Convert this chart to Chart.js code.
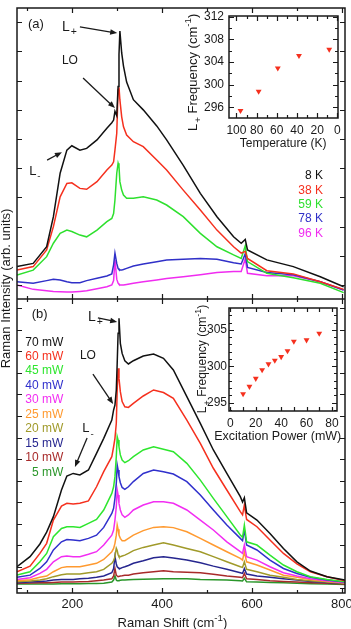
<!DOCTYPE html>
<html>
<head>
<meta charset="utf-8">
<script src="https://cdn.jsdelivr.net/npm/chart.js@4.4.1/dist/chart.umd.min.js"></script>
<style>
  html, body { margin: 0; padding: 0; background: #fff; }
  body { width: 351px; height: 629px; position: relative; overflow: hidden; font-family: "Liberation Sans", Arial, sans-serif; }
  canvas { position: absolute; }
  #yTitle { position: absolute; left: -80px; top: 281px; width: 171px; height: 15px; line-height: 15px;
            text-align: center; font-size: 13px; color: #1a1a1a; transform: rotate(-90deg); white-space: nowrap; }
</style>
</head>
<body>
<canvas id="panelA" width="351" height="299" style="left:0;top:0"></canvas>
<canvas id="panelB" width="351" height="330" style="left:0;top:299px"></canvas>
<canvas id="insetA" width="167" height="147" style="left:178px;top:6px"></canvas>
<canvas id="insetB" width="167" height="147" style="left:178px;top:298px"></canvas>
<div id="yTitle">Raman Intensity (arb. units)</div>
<script>
// ---- panel (a): temperature series ----
const shiftA = [77, 113, 143, 158, 173, 188, 199, 217, 232, 255, 277, 288, 292, 295, 299, 302, 304, 306, 310, 314,
                321, 336, 358, 388, 410, 447, 485, 522, 559, 576, 585, 590, 633, 692, 752, 804];
const temps = ['8 K', '38 K', '59 K', '78 K', '96 K'];
const int8K  = [0.63, 0.74, 1.31, 2.34, 3.83, 4.62, 4.77, 4.62, 4.68, 4.97, 5.37, 5.56, 5.65, 5.95, 5.8, 6.8, 7.9, 8.7, 7.95, 7.5,
                6.95, 6.35, 6.0, 5.45, 4.97, 4.1, 3.14, 2.34, 1.65, 1.43, 1.56, 1.2, 0.86, 0.63, 0.28, -0.06];
const int38K = [0.51, 0.63, 1.2, 2.0, 3.02, 3.48, 3.5, 3.31, 3.28, 3.54, 3.94, 4.11, 4.22, 4.62, 5.2, 6.68, 6.77, 6.34, 5.76, 5.42,
                5.14, 4.91, 4.74, 4.28, 3.94, 3.25, 2.57, 1.88, 1.31, 1.09, 1.15, 0.91, 0.49, 0.38, 0.11, -0.15];
const int59K = [0.34, 0.51, 0.97, 1.43, 1.77, 1.88, 1.83, 1.71, 1.65, 1.88, 2.17, 2.28, 2.45, 2.91, 3.83, 4.17, 4.06, 3.54, 3.25, 3.08,
                2.97, 2.97, 3.02, 2.91, 2.74, 2.34, 1.77, 1.31, 1.03, 0.91, 1.34, 0.8, 0.4, 0.25, 0.06, -0.26];
const int78K = [0.11, 0.06, 0.15, 0.2, 0.17, 0.11, 0.08, 0.08, 0.15, 0.23, 0.31, 0.38, 0.69, 1.09, 0.74, 0.57, 0.53, 0.51, 0.51, 0.53,
                0.57, 0.65, 0.72, 0.8, 0.86, 0.88, 0.91, 0.88, 0.76, 0.72, 1.07, 0.6, 0.43, 0.35, 0.11, -0.17];
const int96K = [0.0, -0.15, -0.2, -0.22, -0.23, -0.24, -0.24, -0.22, -0.2, -0.13, -0.06, 0.0, 0.15, 0.86, 0.2, 0.06, 0.02, 0.0, 0.0, 0.0,
                0.02, 0.06, 0.11, 0.17, 0.22, 0.28, 0.35, 0.43, 0.46, 0.46, 0.9, 0.4, 0.32, 0.32, 0.11, -0.17];

// ---- panel (b): excitation power series ----
const shiftB = [77, 106, 128, 143, 158, 176, 188, 202, 217, 236, 254, 270, 288, 292, 295, 298, 300, 302, 304, 307,
                311, 317, 325, 336, 358, 381, 403, 425, 455, 485, 514, 544, 574, 579, 583, 588, 611, 640, 670, 700,
                730, 767, 807];
const powers = ['70 mW', '60 mW', '45 mW', '40 mW', '30 mW', '25 mW', '20 mW', '15 mW', '10 mW', '5 mW'];
const int70 = [0.99, 1.46, 2.05, 2.6, 3.32, 4.56, 5.21, 5.33, 5.26, 5.49, 6.26, 6.96, 7.81, 8.28, 8.51, 9.21, 10.45, 11.85, 12.54, 11.38,
               10.91, 10.57, 10.42, 10.57, 10.79, 10.88, 10.68, 10.14, 8.9, 7.66, 6.42, 5.33, 4.25, 4.0, 4.2, 3.5, 3.16, 2.54, 1.84, 1.22,
               0.79, 0.53, 0.37];
const int60 = [0.76, 1.02, 1.61, 2.08, 3.16, 3.81, 3.94, 3.91, 3.94, 4.05, 4.71, 5.41, 6.11, 6.57, 6.96, 7.66, 9.21, 10.22, 9.75, 9.13,
               8.67, 8.43, 8.4, 8.59, 8.93, 9.21, 9.09, 8.82, 7.81, 6.73, 5.57, 4.56, 3.55, 3.4, 3.86, 3.19, 2.85, 2.23, 1.61, 1.12,
               0.76, 0.53, 0.34];
const int45 = [0.6, 0.76, 1.22, 1.61, 2.39, 2.77, 2.85, 2.85, 2.82, 3.01, 3.19, 3.63, 4.4, 4.71, 5.18, 6.11, 7.04, 6.88, 6.57, 6.19,
               5.95, 5.83, 5.92, 6.11, 6.42, 6.57, 6.45, 6.34, 5.8, 5.02, 4.17, 3.32, 2.47, 2.36, 2.93, 2.15, 2.0, 1.53, 1.07, 0.76,
               0.53, 0.4, 0.29];
const int40 = [0.5, 0.6, 0.91, 1.22, 1.77, 2.15, 2.26, 2.23, 2.2, 2.31, 2.46, 2.82, 3.47, 3.71, 4.17, 4.87, 5.72, 5.49, 5.18, 4.9,
               4.68, 4.59, 4.71, 4.95, 5.33, 5.49, 5.41, 5.3, 4.95, 4.33, 3.63, 2.93, 2.31, 2.2, 2.7, 2.0, 1.77, 1.3, 0.91, 0.68,
               0.5, 0.37, 0.28];
const int30 = [0.4, 0.48, 0.68, 0.87, 1.22, 1.46, 1.49, 1.46, 1.46, 1.57, 1.69, 2.0, 2.46, 2.7, 3.16, 3.78, 4.56, 4.33, 3.94, 3.63,
               3.4, 3.29, 3.4, 3.63, 3.86, 4.01, 4.01, 3.94, 3.63, 3.16, 2.7, 2.15, 1.69, 1.61, 2.0, 1.46, 1.3, 0.99, 0.71, 0.56,
               0.43, 0.34, 0.25];
const int25 = [0.34, 0.39, 0.5, 0.56, 0.76, 0.95, 0.99, 0.99, 0.99, 1.07, 1.15, 1.33, 1.69, 1.84, 2.08, 2.46, 2.93, 2.73, 2.46, 2.31,
               2.2, 2.2, 2.31, 2.46, 2.67, 2.82, 2.85, 2.81, 2.62, 2.31, 2.0, 1.69, 1.38, 1.3, 1.69, 1.22, 1.07, 0.84, 0.6, 0.5,
               0.4, 0.31, 0.25];
const int20 = [0.29, 0.33, 0.37, 0.43, 0.53, 0.62, 0.65, 0.65, 0.65, 0.71, 0.76, 0.87, 1.15, 1.27, 1.46, 1.85, 1.75, 1.55, 1.46, 1.46,
               1.49, 1.53, 1.61, 1.74, 1.89, 2.0, 2.11, 2.0, 1.84, 1.69, 1.46, 1.22, 0.99, 0.96, 1.22, 0.87, 0.76, 0.6, 0.5, 0.4,
               0.34, 0.28, 0.22];
const int15 = [0.25, 0.28, 0.31, 0.33, 0.37, 0.4, 0.4, 0.4, 0.43, 0.46, 0.5, 0.56, 0.71, 0.91, 1.46, 1.12, 0.99, 0.95, 0.91, 0.91,
               0.95, 0.99, 1.05, 1.15, 1.27, 1.41, 1.46, 1.4, 1.3, 1.18, 1.02, 0.87, 0.71, 0.68, 0.91, 0.65, 0.56, 0.5, 0.43, 0.37,
               0.31, 0.26, 0.22];
const int10 = [0.22, 0.23, 0.25, 0.25, 0.26, 0.28, 0.28, 0.28, 0.29, 0.31, 0.34, 0.37, 0.43, 0.56, 0.91, 0.6, 0.56, 0.53, 0.53, 0.56,
               0.57, 0.59, 0.6, 0.65, 0.71, 0.76, 0.81, 0.76, 0.74, 0.71, 0.64, 0.56, 0.5, 0.48, 0.68, 0.43, 0.4, 0.34, 0.31, 0.28,
               0.25, 0.22, 0.19];
const int5  = [0.19, 0.19, 0.19, 0.19, 0.19, 0.2, 0.2, 0.2, 0.2, 0.21, 0.21, 0.22, 0.28, 0.37, 0.56, 0.37, 0.34, 0.34, 0.35, 0.36,
               0.37, 0.38, 0.39, 0.4, 0.41, 0.42, 0.43, 0.43, 0.43, 0.4, 0.39, 0.37, 0.34, 0.33, 0.45, 0.29, 0.28, 0.26, 0.25, 0.22,
               0.2, 0.19, 0.16];

// ---- insets: L+ frequency ----
const insetTemp = [96, 78, 59, 38, 8];
const insetTempFreq = [295.4, 298.8, 302.9, 305.1, 306.2];
const insetPower = [10, 15, 20, 25, 30, 35, 40, 45, 50, 60, 70];
const insetPowerFreq = [296.2, 297.2, 298.3, 299.5, 300.3, 300.8, 301.3, 302.1, 303.4, 303.6, 304.5];

// ---- ticks ----
const shiftTicks = [100, 200, 300, 400, 500, 600, 700, 800];
const shiftLabels = [200, 400, 600, 800];
const tempTicks = [0, 20, 40, 60, 80, 100];
const freqTicksA = [296, 300, 304, 308, 312];
const powerTicks = [0, 20, 40, 60, 80];
const freqTicksB = [295, 300, 305];

const FONT = '"Liberation Sans", Arial, sans-serif';
Chart.defaults.font.family = FONT;
Chart.defaults.color = '#1a1a1a';

// frame round the plot area plus inward tick marks on all four sides
const frameTicks = {
  id: 'frameTicks',
  afterDatasetsDraw(chart, args, o) {
    const {ctx, chartArea: a} = chart;
    const sx = chart.scales.x, sy = chart.scales.y;
    ctx.save();
    ctx.strokeStyle = '#1a1a1a';
    ctx.lineWidth = 1.2;
    ctx.beginPath();
    (o.x || []).forEach(t => {
      const p = Math.round(sx.getPixelForValue(t.v)) + 0.5;
      ctx.moveTo(p, a.bottom); ctx.lineTo(p, a.bottom - t.len);
      ctx.moveTo(p, a.top); ctx.lineTo(p, a.top + t.len);
    });
    (o.y || []).forEach(t => {
      const p = Math.round(sy.getPixelForValue(t.v)) + 0.5;
      ctx.moveTo(a.left, p); ctx.lineTo(a.left + t.len, p);
      ctx.moveTo(a.right, p); ctx.lineTo(a.right - t.len, p);
    });
    ctx.stroke();
    ctx.lineWidth = 1.5;
    ctx.strokeRect(a.left, a.top, a.right - a.left, a.bottom - a.top);
    ctx.restore();
  }
};

// text labels (optionally rotated, with sub/superscripts) and arrows, placed in data coordinates
const notes = {
  id: 'notes',
  afterDraw(chart, args, o) {
    const {ctx} = chart;
    const sx = chart.scales.x, sy = chart.scales.y;
    ctx.save();
    ctx.strokeStyle = ctx.fillStyle = '#1a1a1a';
    (o.arrows || []).forEach(ar => {
      const x0 = sx.getPixelForValue(ar[0]), y0 = sy.getPixelForValue(ar[1]);
      const x1 = sx.getPixelForValue(ar[2]), y1 = sy.getPixelForValue(ar[3]);
      const ang = Math.atan2(y1 - y0, x1 - x0), c = Math.cos(ang), s = Math.sin(ang);
      ctx.fillStyle = '#1a1a1a';
      ctx.lineWidth = 1.3;
      ctx.beginPath(); ctx.moveTo(x0, y0); ctx.lineTo(x1 - 5 * c, y1 - 5 * s); ctx.stroke();
      ctx.beginPath();
      ctx.moveTo(x1, y1);
      ctx.lineTo(x1 - 7 * c + 2.8 * s, y1 - 7 * s - 2.8 * c);
      ctx.lineTo(x1 - 7 * c - 2.8 * s, y1 - 7 * s + 2.8 * c);
      ctx.closePath(); ctx.fill();
    });
    (o.labels || []).forEach(l => {
      const size = l.size || 12;
      const parts = l.parts || [{t: l.text}];
      const fontOf = p => (p.sub || p.sup ? size * 0.75 : size) + 'px ' + FONT;
      let w = 0;
      parts.forEach(p => { ctx.font = fontOf(p); p.w = ctx.measureText(p.t).width; w += p.w + (p.sub ? 1 : 0); });
      ctx.save();
      ctx.translate(sx.getPixelForValue(l.x), sy.getPixelForValue(l.y));
      if (l.rotate) ctx.rotate(l.rotate * Math.PI / 180);
      let px = 0;
      if (l.align === 'right') px -= w;
      if (l.align === 'center') px -= w / 2;
      ctx.fillStyle = l.color || '#1a1a1a';
      ctx.textAlign = 'left';
      ctx.textBaseline = 'middle';
      parts.forEach(p => {
        ctx.font = fontOf(p);
        const dy = p.sub ? size * 0.38 : (p.sup ? -size * 0.4 : 0);
        if (p.sub) px += 1;
        ctx.fillText(p.t, px, dy);
        px += p.w;
      });
      ctx.restore();
    });
    ctx.restore();
  }
};

function lineSet(label, xs, ys, color) {
  return {
    label: label,
    data: xs.map((x, i) => ({x: x, y: ys[i]})),
    showLine: true,
    borderColor: color,
    borderWidth: 1.5,
    pointRadius: 0,
    fill: false,
    tension: 0
  };
}

const tempColors = ['#111111', '#f5301e', '#2ee02e', '#3030c8', '#f02cf0'];
const powerColors = ['#111111', '#f5301e', '#2ee62e', '#3030cc', '#f22ef2', '#ff9a30', '#a09a2a', '#26268f', '#a82a2a', '#2a962a'];

const shiftTickMarks = shiftTicks.map(v => ({v: v, len: v % 200 === 0 ? 5 : 3}));
const freqTitle = [{t: 'L'}, {t: '+', sub: true}, {t: ' Frequency (cm'}, {t: '-1', sup: true}, {t: ')'}];

// panel (a)
const seriesA = [int8K, int38K, int59K, int78K, int96K];
new Chart(document.getElementById('panelA'), {
  type: 'scatter',
  data: { datasets: seriesA.map((ys, i) => lineSet(temps[i], shiftA, ys, tempColors[i])) },
  options: {
    responsive: false,
    animation: false,
    devicePixelRatio: 1,
    layout: { padding: { left: 17, right: 6, top: 8, bottom: 0 } },
    scales: {
      x: { type: 'linear', display: false, min: 77, max: 807 },
      y: { type: 'linear', display: false, min: -0.48, max: 9.49 }
    },
    plugins: {
      legend: { display: false },
      tooltip: { enabled: false },
      frameTicks: {
        x: shiftTickMarks,
        y: [0, 1, 2, 3, 4, 5, 6, 7, 8, 9].map(v => ({v: v, len: 5}))
      },
      notes: {
        arrows: [[217, 8.84, 300, 8.63], [224, 7.09, 295, 6.06], [144, 4.28, 177, 4.55]],
        labels: [
          {x: 101.5, y: 8.94, text: '(a)', size: 13},
          {x: 177, y: 8.84, size: 14, parts: [{t: 'L'}, {t: '+', sub: true}]},
          {x: 177, y: 7.67, text: 'LO', size: 12},
          {x: 104, y: 3.9, size: 13, parts: [{t: 'L'}, {t: '-', sub: true}]}
        ].concat(temps.map((t, i) => ({x: 758, y: 3.73 - i * 0.49, text: t, color: tempColors[i], align: 'right', size: 12})))
      }
    }
  },
  plugins: [frameTicks, notes]
});

// panel (b)
const seriesB = [int70, int60, int45, int40, int30, int25, int20, int15, int10, int5];
new Chart(document.getElementById('panelB'), {
  type: 'scatter',
  data: { datasets: seriesB.map((ys, i) => lineSet(powers[i], shiftB, ys, powerColors[i])) },
  options: {
    responsive: false,
    animation: false,
    devicePixelRatio: 1,
    layout: { padding: { left: 17, right: 6, top: 0, bottom: 0 } },
    scales: {
      x: {
        type: 'linear', min: 77, max: 807,
        grid: { display: false, drawTicks: false },
        border: { display: false },
        ticks: { padding: 4, font: { size: 13 }, color: '#1a1a1a', autoSkip: false, maxRotation: 0, minRotation: 0 },
        afterBuildTicks: s => { s.ticks = shiftLabels.map(v => ({value: v})); },
        afterFit: s => { s.height = 36; s.paddingLeft = 0; s.paddingRight = 0; }
      },
      y: { type: 'linear', display: false, min: -0.23, max: 13.44 }
    },
    plugins: {
      legend: { display: false },
      tooltip: { enabled: false },
      frameTicks: {
        x: shiftTickMarks,
        y: [0, 1, 2, 3, 4, 5, 6, 7, 8, 9, 10, 11, 12, 13].map(v => ({v: v, len: 5}))
      },
      notes: {
        arrows: [[257, 12.56, 300, 12.37], [246, 9.95, 291, 8.56], [233, 6.98, 206, 5.63]],
        labels: [
          {x: 109.7, y: 12.7, text: '(b)', size: 13},
          {x: 235, y: 12.6, size: 14, parts: [{t: 'L'}, {t: '+', sub: true}]},
          {x: 217, y: 10.79, text: 'LO', size: 12},
          {x: 222, y: 7.4, size: 13, parts: [{t: 'L'}, {t: '-', sub: true}]},
          {x: 423, y: -1.63, size: 13, align: 'center', parts: [{t: 'Raman Shift (cm'}, {t: '-1', sup: true}, {t: ')'}]}
        ].concat(powers.map((p, i) => ({x: 180, y: 11.43 - i * 0.672, text: p, color: powerColors[i], align: 'right', size: 12})))
      }
    }
  },
  plugins: [frameTicks, notes]
});

function insetChart(id, xs, ys, o) {
  return new Chart(document.getElementById(id), {
    type: 'scatter',
    data: { datasets: [{
      data: xs.map((x, i) => ({x: x, y: ys[i]})),
      pointStyle: 'triangle', rotation: 180, pointRadius: 3.4,
      backgroundColor: '#f5301e', borderColor: '#f5301e', borderWidth: 0
    }] },
    options: {
      responsive: false,
      animation: false,
      devicePixelRatio: 1,
      layout: { padding: { left: 0, right: o.padRight, top: 10, bottom: 0 } },
      scales: {
        x: {
          type: 'linear', min: o.xMin, max: o.xMax, reverse: o.reverse,
          grid: { display: false, drawTicks: false },
          border: { display: false },
          ticks: { padding: 5, font: { size: 12 }, color: '#1a1a1a', autoSkip: false, maxRotation: 0, minRotation: 0 },
          afterBuildTicks: s => { s.ticks = o.xTicks.map(v => ({value: v})); },
          afterFit: s => { s.height = o.xHeight; s.paddingLeft = 0; s.paddingRight = 0; }
        },
        y: {
          type: 'linear', min: o.yMin, max: o.yMax,
          grid: { display: false, drawTicks: false },
          border: { display: false },
          ticks: { padding: o.yPad, font: { size: 12 }, color: '#1a1a1a', autoSkip: false },
          afterBuildTicks: s => { s.ticks = o.yTicks.map(v => ({value: v})); },
          afterFit: s => { s.width = 51; s.paddingTop = 0; s.paddingBottom = 0; }
        }
      },
      plugins: {
        legend: { display: false },
        tooltip: { enabled: false },
        frameTicks: { x: o.xMarks, y: o.yMarks },
        notes: { labels: o.titles }
      }
    },
    plugins: [frameTicks, notes]
  });
}

insetChart('insetA', insetTemp, insetTempFreq, {
  xMin: -0.7, xMax: 107.4, reverse: true, yMin: 294.1, yMax: 312.1,
  xTicks: tempTicks, yTicks: freqTicksA,
  padRight: 7, xHeight: 35, yPad: 5,
  xMarks: [0, 10, 20, 30, 40, 50, 60, 70, 80, 90, 100].map(v => ({v: v, len: v % 20 === 0 ? 5 : 3})),
  yMarks: [296, 298, 300, 302, 304, 306, 308, 310, 312].map(v => ({v: v, len: v % 4 === 0 ? 5 : 3})),
  titles: [
    {x: 53.7, y: 289.65, text: 'Temperature (K)', size: 12, align: 'center'},
    {x: 142.5, y: 302.15, size: 13, align: 'center', rotate: -90, parts: freqTitle}
  ]
});

insetChart('insetB', insetPower, insetPowerFreq, {
  xMin: -1.1, xMax: 84, reverse: false, yMin: 293.84, yMax: 308.0,
  xTicks: powerTicks, yTicks: freqTicksB,
  padRight: 8, xHeight: 34, yPad: 2,
  xMarks: [0, 10, 20, 30, 40, 50, 60, 70, 80].map(v => ({v: v, len: 4})),
  yMarks: [294, 295, 296, 297, 298, 299, 300, 301, 302, 303, 304, 305, 306, 307].map(v => ({v: v, len: v % 5 === 0 ? 5 : 3})),
  titles: [
    {x: 37.3, y: 290.38, text: 'Excitation Power (mW)', size: 12.5, align: 'center'},
    {x: -21.5, y: 300.99, size: 12, align: 'center', rotate: -90, parts: freqTitle}
  ]
});
</script>
</body>
</html>
